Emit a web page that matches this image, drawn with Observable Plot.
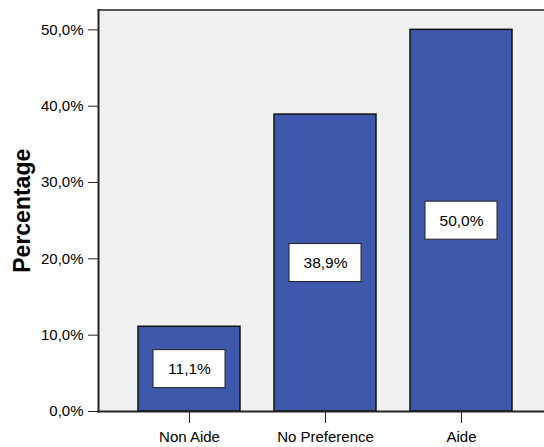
<!DOCTYPE html>
<html>
<head>
<meta charset="utf-8">
<script src="https://cdn.jsdelivr.net/npm/d3@7"></script>
<script src="https://cdn.jsdelivr.net/npm/@observablehq/plot@0.6"></script>
<style>
  html, body { margin: 0; padding: 0; background: #ffffff; }
  svg { font-family: Arial, "Liberation Sans", sans-serif; }
</style>
</head>
<body>
<div id="chart"></div>
<script>
const categories = ["Non Aide", "No Preference", "Aide"];
const percentages = [11.1, 38.9, 50.0];
const yTicks = [0, 10, 20, 30, 40, 50];
const yLabel = "Percentage";

const data = categories.map((c, i) => ({category: c, value: percentages[i]}));
const fmt = d => d.toFixed(1).replace(".", ",") + "%";

const chart = Plot.plot({
  width: 544,
  height: 447,
  marginLeft: 98,
  marginRight: 0,
  marginTop: 9.5,
  marginBottom: 36,
  style: {background: "#ffffff", fontFamily: "Arial, 'Liberation Sans', sans-serif", fontSize: "15px", color: "#000"},
  x: {domain: categories, range: [98.5, 551.5], paddingInner: 0.25, paddingOuter: 0.29, label: null},
  y: {domain: [0, 52.6], label: null},
  marks: [
    Plot.frame({fill: "#f0f0f0", stroke: null}),
    Plot.frame({anchor: "top", stroke: "#222", strokeWidth: 1.5}),
    Plot.barY(data, {x: "category", y: "value", fill: "#3e58ab", stroke: "#111", strokeWidth: 1.5}),
    Plot.barY(data, {
      x: "category",
      y1: d => d.value / 2,
      y2: d => d.value / 2,
      fill: "#ffffff",
      stroke: "#222",
      strokeWidth: 1,
      insetLeft: 15, insetRight: 15, insetTop: -19, insetBottom: -19
    }),
    Plot.text(data, {x: "category", y: d => d.value / 2, text: d => fmt(d.value), fontSize: 15.5, fill: "#000"}),
    Plot.axisY({ticks: yTicks, tickFormat: fmt, tickSize: 10, tickPadding: 5, tickStrokeWidth: 2, stroke: "#222", fontSize: 15, label: null}),
    Plot.axisY({ticks: [], tickSize: 0, label: yLabel, labelAnchor: "center", labelArrow: "none", labelOffset: 85, fontSize: 23, fontWeight: "bold", fill: "#000"}),
    Plot.axisX({tickSize: 12, tickPadding: 8, tickStrokeWidth: 2, stroke: "#222", fontSize: 15, label: null}),
    Plot.frame({anchor: "left", stroke: "#222", strokeWidth: 2}),
    Plot.frame({anchor: "bottom", stroke: "#222", strokeWidth: 2})
  ]
});
document.getElementById("chart").appendChild(chart);
</script>
</body>
</html>
